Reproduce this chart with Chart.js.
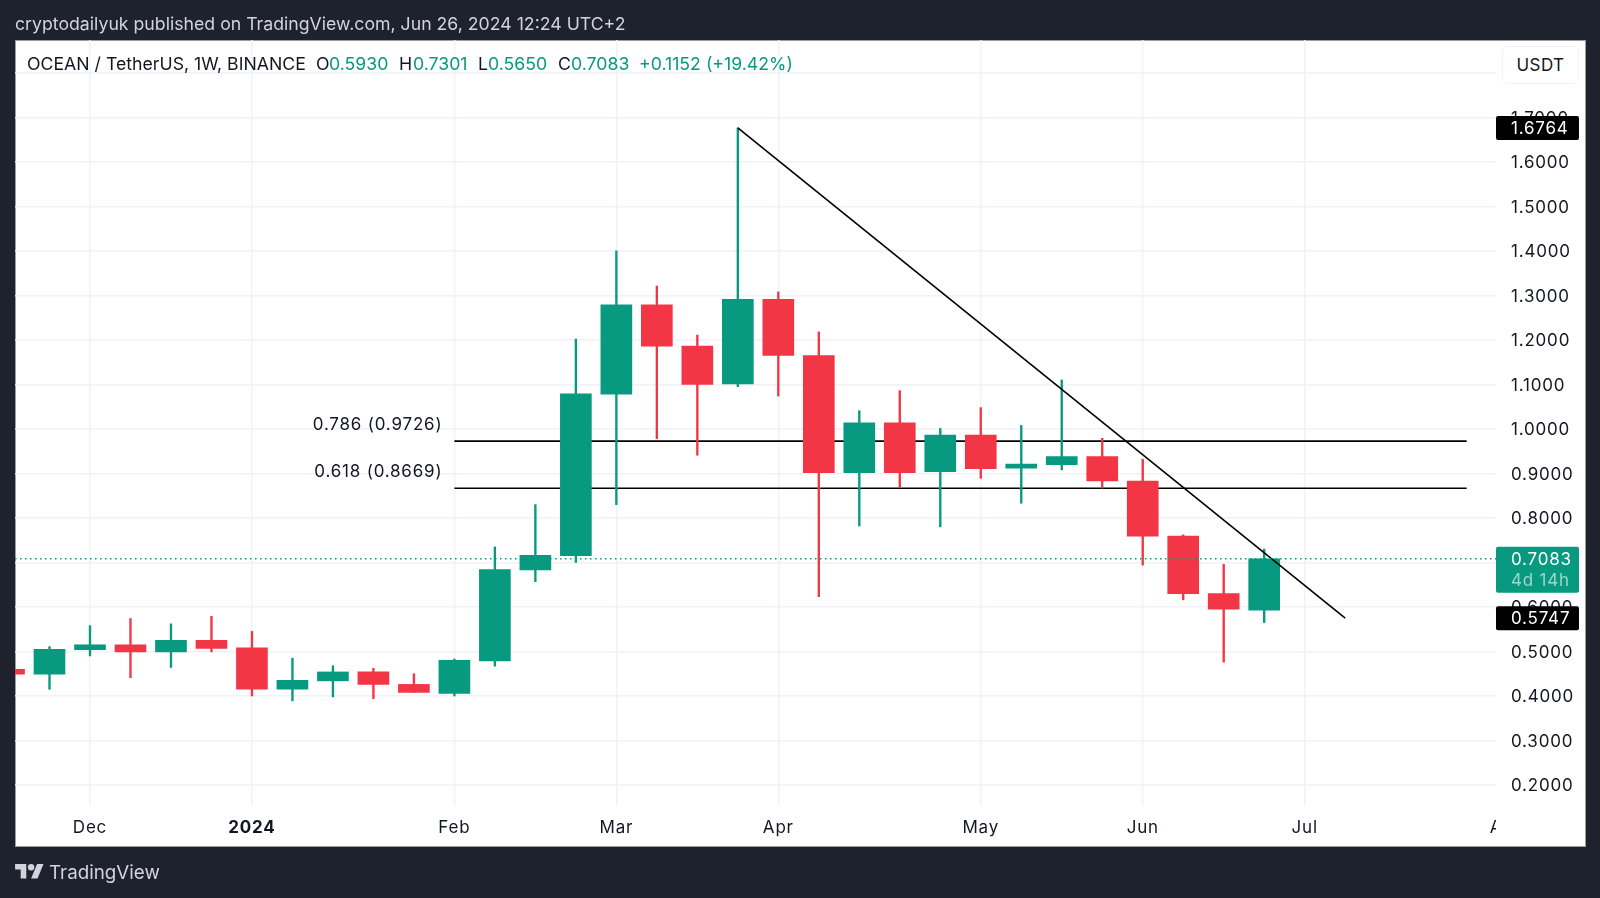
<!DOCTYPE html>
<html>
<head>
<meta charset="utf-8">
<title>OCEAN / TetherUS</title>
<script src="https://cdn.jsdelivr.net/npm/chart.js@4/dist/chart.umd.min.js"></script>
<style>
html,body{margin:0;padding:0;background:#1e222d;width:1600px;height:898px;overflow:hidden}
#panel{position:absolute;left:15px;top:40px;width:1569px;height:805px;background:#fff;border:1px solid #9a9da6;box-sizing:content-box}
canvas{position:absolute;left:0;top:0}
.t{position:absolute;font-family:Inter,"Noto Sans",sans-serif;white-space:nowrap;line-height:22px}
.g{color:#089981}.k{color:#131722}
#pub{left:15px;top:12.5px;color:#d1d4dc;font-size:17.7px}
.row{top:52.5px;font-size:17.7px}
#usdt{position:absolute;left:1502px;top:46px;width:75px;height:36px;border:1px solid #f0f3fa;border-radius:6px;background:#fff;font:17px Inter,sans-serif;letter-spacing:.4px;color:#131722;text-align:center;line-height:36px}
#logo{position:absolute;left:15px;top:864px;width:29px;height:16px;fill:#d1d4dc}
#brand{left:49px;top:862px;color:#d1d4dc;font-size:18.8px}
</style>
</head>
<body>
<div id="panel"></div>
<canvas id="c" width="1600" height="898"></canvas>
<div class="t" id="pub">cryptodailyuk published on TradingView.com, Jun 26, 2024 12:24 UTC+2</div>
<div class="t row k" style="left:27px">OCEAN / TetherUS, 1W, BINANCE</div>
<div class="t row k" style="left:316px">O</div><div class="t row g" style="left:329px">0.5930</div>
<div class="t row k" style="left:399px">H</div><div class="t row g" style="left:413px">0.7301</div>
<div class="t row k" style="left:478px">L</div><div class="t row g" style="left:488px">0.5650</div>
<div class="t row k" style="left:558px">C</div><div class="t row g" style="left:571px">0.7083</div>
<div class="t row g" style="left:639px">+0.1152 (+19.42%)</div>
<div id="usdt">USDT</div>
<svg id="logo" viewBox="0 0 36 20"><path d="M14 18H7V7H0V0h14v18zM28 18h-8l7.5-18h8L28 18z"/><circle cx="20" cy="4" r="4"/></svg>
<div class="t" id="brand">TradingView</div>
<script>
const categories = ["2023-11-20","2023-11-27","2023-12-04","2023-12-11","2023-12-18","2023-12-25","2024-01-01","2024-01-08","2024-01-15","2024-01-22","2024-01-29","2024-02-05","2024-02-12","2024-02-19","2024-02-26","2024-03-04","2024-03-11","2024-03-18","2024-03-25","2024-04-01","2024-04-08","2024-04-15","2024-04-22","2024-04-29","2024-05-06","2024-05-13","2024-05-20","2024-05-27","2024-06-03","2024-06-10","2024-06-17","2024-06-24"];
const opens  = [0.460,0.449,0.504,0.515,0.499,0.525,0.508,0.415,0.434,0.454,0.426,0.406,0.479,0.683,0.715,1.078,1.279,1.186,1.101,1.291,1.165,0.902,1.014,0.904,0.986,0.912,0.920,0.938,0.883,0.759,0.630,0.5930];
const highs  = [0.462,0.511,0.558,0.574,0.562,0.579,0.545,0.485,0.468,0.462,0.450,0.483,0.735,0.830,1.202,1.400,1.321,1.211,1.6764,1.308,1.218,1.041,1.086,1.001,1.048,1.008,1.110,0.979,0.932,0.762,0.696,0.7301];
const lows   = [0.447,0.415,0.490,0.441,0.464,0.499,0.400,0.389,0.398,0.394,0.408,0.400,0.467,0.657,0.700,0.830,0.978,0.941,1.095,1.074,0.623,0.782,0.868,0.780,0.889,0.833,0.908,0.867,0.694,0.616,0.476,0.5650];
const closes = [0.449,0.505,0.515,0.499,0.525,0.507,0.415,0.435,0.454,0.426,0.408,0.480,0.684,0.716,1.079,1.279,1.186,1.100,1.291,1.165,0.902,1.014,0.902,0.986,0.911,0.921,0.938,0.883,0.759,0.630,0.595,0.7083];
const xTickIndex  = [2,6,11,15,19,24,28,32,37];
const xTickLabels = ["Dec","2024","Feb","Mar","Apr","May","Jun","Jul","Aug"];
const boldTickLabel = "2024";
const yTickValues = [0.2,0.3,0.4,0.5,0.6,0.7,0.8,0.9,1.0,1.1,1.2,1.3,1.4,1.5,1.6,1.7,1.8];
const yTickLabels = ["0.2000","0.3000","0.4000","0.5000","0.6000","0.7000","0.8000","0.9000","1.0000","1.1000","1.2000","1.3000","1.4000","1.5000","1.6000","1.7000",""];
const fibLevels = [0.9726,0.8669];
const fibNames  = ["0.786 (0.9726)","0.618 (0.8669)"];
const fibStart = 11, fibEnd = 36;
const trendIdx = [18,33];
const trendVal = [1.6764,0.5747];
const timerText = "4d 14h";
</script>
<script>
const GREEN='#089981', RED='#f23645', BLACK='#000000', GRID='#f0f2f6', FONT='Inter, "Noto Sans", sans-serif';
const xMin=0.148, xMax=36.725, yMin=0.155, yMax=1.874;
const colors=opens.map((o,i)=>closes[i]>=o?GREEN:RED);
const lastClose=closes[closes.length-1];
const overlay={id:'overlay',
 beforeDraw(ch){
  ch.ctx.letterSpacing='0.8px';
  if(!ch.scales.y._nudged){ch.scales.y.getLabelItems(ch.chartArea).forEach(i=>{i.textOffset+=1;});ch.scales.y._nudged=true;}
 },
 afterDraw(ch){
  const {ctx,scales:{x,y},chartArea:a}=ch;
  ctx.save();
  // clip of the time axis at the price scale
  ctx.fillStyle='#fff';ctx.fillRect(a.right,a.bottom+1,88,39);
  ctx.font='17px '+FONT;ctx.textBaseline='middle';
  // fib labels
  ctx.fillStyle='#131722';ctx.textAlign='right';
  fibLevels.forEach((l,i)=>ctx.fillText(fibNames[i],x.getPixelForValue(fibStart)-12,y.getPixelForValue(l)-16));
  // price boxes
  ctx.textAlign='left';
  const box=(top,h,c)=>{ctx.fillStyle=c;ctx.beginPath();ctx.roundRect(a.right,top,83,h,2);ctx.fill();};
  trendVal.forEach(v=>{const p=y.getPixelForValue(v);box(p-12,24,BLACK);ctx.fillStyle='#fff';ctx.fillText(v.toFixed(4),a.right+15,p+1);});
  const p=y.getPixelForValue(lastClose);
  box(p-12,46,GREEN);ctx.fillStyle='#fff';ctx.fillText(lastClose.toFixed(4),a.right+15,p+1);
  ctx.fillStyle='rgba(255,255,255,.6)';ctx.fillText(timerText,a.right+15,p+22);
  ctx.restore();
 }};
const lineDs=(data,color,order,extra)=>Object.assign({type:'line',data,borderColor:color,borderWidth:1.6,pointRadius:0,tension:0,order,fill:false},extra||{});
new Chart(document.getElementById('c'),{
  type:'bar',
  plugins:[overlay],
  data:{datasets:[
    ...fibLevels.map(l=>lineDs([{x:fibStart,y:l},{x:fibEnd,y:l}],BLACK,5)),
    {label:'wick',data:categories.map((c,i)=>({x:i,y:[lows[i],highs[i]]})),backgroundColor:colors,barThickness:1.7,grouped:false,order:3},
    {label:'body',data:categories.map((c,i)=>({x:i,y:[opens[i],closes[i]]})),backgroundColor:colors,barThickness:31,grouped:false,order:2},
    lineDs([{x:trendIdx[0],y:trendVal[0]},{x:trendIdx[1],y:trendVal[1]}],BLACK,1),
    lineDs([{x:xMin,y:lastClose},{x:xMax,y:lastClose}],GREEN,0,{borderWidth:1.4,borderDash:[1.5,3.5]})
  ]},
  options:{
    responsive:false,animation:false,devicePixelRatio:1,
    layout:{padding:{left:15,top:40,right:15,bottom:52}},
    plugins:{legend:{display:false},tooltip:{enabled:false},title:{display:false}},
    scales:{
      x:{type:'linear',min:xMin,max:xMax,offset:false,
        grid:{offset:false,color:c=>(c.tick&&c.tick.value>xMax)?'rgba(0,0,0,0)':GRID,lineWidth:1.4,drawTicks:false},border:{display:false},
        afterBuildTicks(s){s.ticks=xTickIndex.map(v=>({value:v}));},
        afterFit(s){s.height=41;s.paddingLeft=0;s.paddingRight=0;},
        ticks:{autoSkip:false,maxRotation:0,padding:13,color:'#131722',
          font:c=>({family:FONT,size:17,weight:c.tick&&c.tick.label===boldTickLabel?'700':'400'}),
          callback:(v)=>xTickLabels[xTickIndex.indexOf(v)]}},
      y:{type:'linear',position:'right',min:yMin,max:yMax,
        grid:{color:GRID,lineWidth:1.4,drawTicks:false},border:{display:false},
        afterBuildTicks(s){s.ticks=yTickValues.map(v=>({value:v}));},
        afterFit(s){s.width=89;},
        ticks:{autoSkip:false,padding:15,color:'#131722',font:{family:FONT,size:17},
          callback:(v)=>yTickLabels[yTickValues.indexOf(v)]}}
    }
  }
});
</script>
</body>
</html>
